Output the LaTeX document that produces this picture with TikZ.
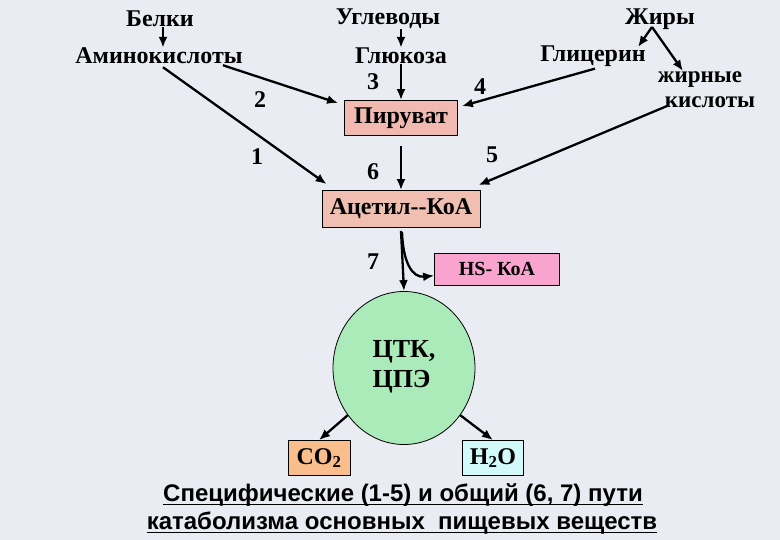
\documentclass[tikz,border=0pt]{standalone}
\usepackage{fontspec}
\setmainfont{Liberation Serif}
\newfontfamily\arialfont{Liberation Sans}
\usetikzlibrary{arrows.meta,shapes.geometric,calc}
\definecolor{bg}{RGB}{233,237,243}
\definecolor{pirc}{RGB}{241,185,176}
\definecolor{acetc}{RGB}{241,190,178}
\definecolor{hsc}{RGB}{249,163,207}
\definecolor{tcac}{RGB}{170,235,185}
\definecolor{coc}{RGB}{250,190,140}
\definecolor{hoc}{RGB}{210,250,250}
\begin{document}
\begin{tikzpicture}[x=1pt,y=-1pt,
  lbl/.style={font=\bfseries\fontsize{24}{26}\selectfont, inner sep=0pt},
  box/.style={draw=black, line width=0.8pt, font=\bfseries\fontsize{24}{26}\selectfont, inner sep=0pt},
  arr/.style={line width=2.3pt, -{Latex[length=11pt,width=9pt]}},
  foot/.style={font=\arialfont\bfseries\fontsize{24}{26}\selectfont, inner sep=0pt},
  uline/.style={line width=1.8pt}]
\fill[bg] (0,0) rectangle (780,540);
\useasboundingbox (0,0) rectangle (780,540);
% labels
\node[lbl] (belki) at (160,19) {Белки};
\node[lbl] (ugl) at (388,19) {Углеводы};
\node[lbl] (zhiry) at (660,19) {Жиры};
\node[lbl] (amino) at (159,56) {Аминокислоты};
\node[lbl] (glu) at (401,56) {Глюкоза};
\node[lbl] (gli) at (593,56) {Глицерин};
\node[lbl, font=\bfseries\fontsize{23}{25}\selectfont] (zhk1) at (700,80) {жирные};
\node[lbl, font=\bfseries\fontsize{23}{25}\selectfont] (zhk2) at (710,102) {кислоты};
% numbers
\node[lbl] (n3) at (373,82) {3};
\node[lbl] (n4) at (480,87) {4};
\node[lbl] (n2) at (260,100) {2};
\node[lbl] (n1) at (257,157) {1};
\node[lbl] (n5) at (492,155) {5};
\node[lbl] (n6) at (373,172) {6};
\node[lbl] (n7) at (373,262) {7};
% boxes
\node[box, fill=pirc, minimum width=113pt, minimum height=35pt] (pir) at (401,118) {Пируват};
\node[box, fill=acetc, minimum width=158pt, minimum height=37pt] (acet) at (401,209) {Ацетил{-}{-}КоА};
\node[box, fill=hsc, minimum width=125pt, minimum height=32pt, font=\bfseries\fontsize{20}{22}\selectfont] (hs) at (497,269) {HS- КоА};
\node[ellipse, draw=black, line width=0.8pt, fill=tcac, minimum width=142pt, minimum height=153pt] (tca) at (404,368) {};
\node[lbl, align=left, font=\bfseries\fontsize{26}{30}\selectfont] (tcat) at (404,367) {ЦТК,\\ЦПЭ};
\node[box, fill=coc, minimum width=62pt, minimum height=35pt] (co) at (319,458) {CO\textsubscript{2}};
\node[box, fill=hoc, minimum width=61pt, minimum height=35pt] (ho) at (493,458) {H\textsubscript{2}O};
% footer
\node[foot] (f1) at (403,495) {Специфические (1-5) и общий (6, 7) пути};
\node[foot] (f2) at (402,523) {катаболизма основных\ \ пищевых веществ};
\draw[uline] ($(f1.base west)+(0,3)$) -- ($(f1.base east)+(0,3)$);
\draw[uline] ($(f2.base west)+(0,3)$) -- ($(f2.base east)+(0,3)$);
% connectors
\coordinate (zf) at (652,27);
\coordinate (gliend) at (638,47);
\coordinate (zhkend) at (683,71);
\draw[arr] ($(belki.south)+(3,0)$) -- ($(amino.north)+(4,0)$);
\draw[arr] (glu.north |- ugl.south) -- (glu.north);
\draw[arr] (glu.south) -- (pir.north);
\draw[arr] (zf) -- (gliend);
\draw[arr] (zf) -- (zhkend);
\draw[arr] ($(amino.south east)+(-20,1)$) -- ($(pir.north west)+(-6,3)$);
\draw[arr] ($(amino.south)+(4,3)$) -- ($(acet.north west)+(5,-6)$);
\draw[arr] ($(gli.south)+(2,2)$) -- ($(pir.north east)+(4,6)$);
\draw[arr] ($(zhk2.south west)+(3,-2)$) -- ($(acet.north east)+(-2,-5)$);
\draw[arr] ($(pir.south)+(0,10)$) -- (acet.north);
\draw[arr] ($(acet.south)+(0,3)$) -- (tca.north);
\draw[arr] ($(acet.south)+(1,4)$) .. controls (403,262) and (412,278) .. (hs.-174);
\draw[arr] (tca.-140) -- (co.north);
\draw[arr] (tca.-40) -- (ho.north);
\end{tikzpicture}
\end{document}
